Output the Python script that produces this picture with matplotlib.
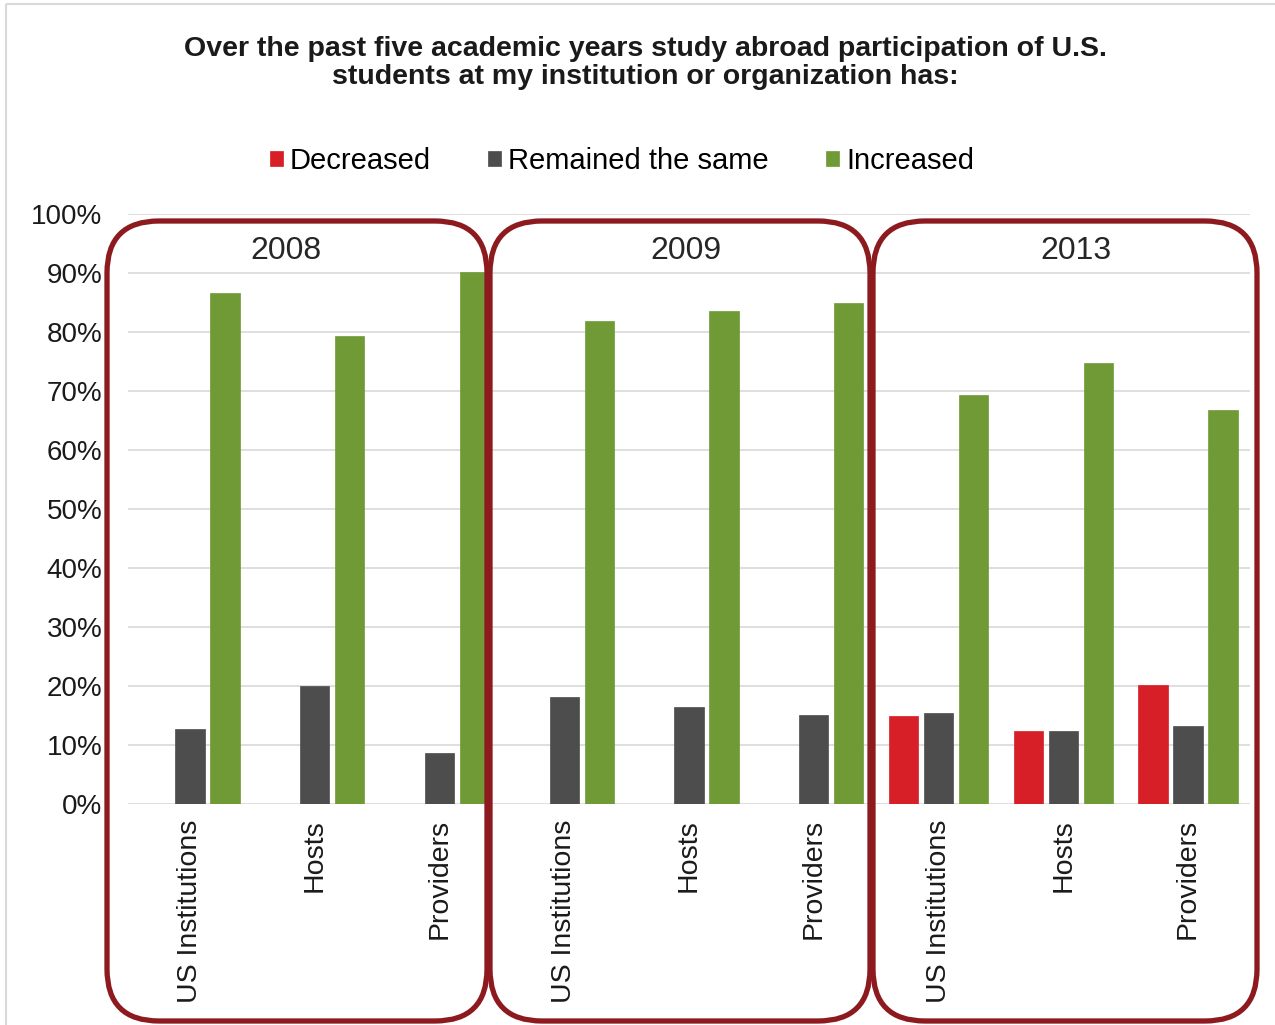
import numpy as np
import matplotlib
matplotlib.use("Agg")
import matplotlib.pyplot as plt
from matplotlib.patches import FancyBboxPatch, Rectangle
from matplotlib.ticker import FuncFormatter

plt.rcParams['font.family'] = ['Liberation Sans', 'DejaVu Sans']

# data (percent)
years = ["2008", "2009", "2013"]
groups = ["US Institutions", "Hosts", "Providers"]
categories = groups * 3
decreased = [0, 0, 0, 0, 0, 0, 15.0, 12.3, 20.1]
remained = [12.7, 20.0, 8.7, 18.1, 16.5, 15.1, 15.4, 12.3, 13.2]
increased = [86.6, 79.4, 90.1, 81.9, 83.6, 85.0, 69.3, 74.8, 66.8]
series_names = ["Decreased", "Remained the same", "Increased"]
colors = ["#d61f26", "#4d4d4d", "#6f9a36"]

W, H = 1275, 1025
fig = plt.figure(figsize=(W / 100, H / 100), dpi=100)

# main plot area (pixel extents from the reference)
left, right, top, bottom = 127.6, 1250.4, 214, 804
ax = fig.add_axes([left / W, 1 - bottom / H, (right - left) / W, (bottom - top) / H])

x = np.arange(len(categories))
bw = 0.235
off = 0.28
for vals, dx, c, name in zip([decreased, remained, increased], [-off, 0, off], colors, series_names):
    ax.bar(x + dx, vals, bw, color=c, edgecolor=c, linewidth=0.5, label=name, zorder=3)

ax.set_xlim(-0.5, len(categories) - 0.5)
ax.set_ylim(0, 100)
ax.set_yticks(np.arange(0, 101, 10))
ax.yaxis.set_major_formatter(FuncFormatter(lambda v, p: f"{int(v)}%"))
ax.set_xticks(x)
ax.set_xticklabels(categories, rotation=90, fontsize=20.5, color="#1a1a1a")
ax.tick_params(axis="y", length=0, pad=18, labelsize=20, labelcolor="#1a1a1a")
ax.tick_params(axis="x", length=0, pad=11)
ax.grid(axis="y", color="#d9d9d9", linewidth=1.2, zorder=0)
for s in ax.spines.values():
    s.set_visible(False)

# legend
handles, labels = ax.get_legend_handles_labels()
fig.legend(handles, labels, loc="center", bbox_to_anchor=(622 / W, 1 - 161 / H), ncol=3,
           frameon=False, fontsize=21, handlelength=0.45, handleheight=0.45,
           handletextpad=0.25, columnspacing=1.95)

# title
fig.text(645 / W, 1 - 63 / H,
         "Over the past five academic years study abroad participation of U.S.\n"
         "students at my institution or organization has:",
         ha="center", va="center", fontsize=20.5, fontweight="bold", linespacing=1.15,
         color="#1a1a1a")

# overlay in pixel coordinates for frame, rounded boxes and year labels
ov = fig.add_axes([0, 0, 1, 1], facecolor="none", zorder=5)
ov.set_xlim(0, W)
ov.set_ylim(H, 0)
ov.axis("off")

ov.add_patch(Rectangle((6, 4), W, H, fill=False, edgecolor="#d9d9d9", linewidth=1.5))

box_x = [(107, 487), (490, 870), (873, 1257)]
year_x = [286, 686, 1076]
for (x0, x1), yr, yx in zip(box_x, years, year_x):
    ov.add_patch(FancyBboxPatch((x0, 221), x1 - x0, 800,
                                boxstyle="round,pad=0,rounding_size=52",
                                fill=False, edgecolor="#8c1a1e", linewidth=3.8))
    ov.text(yx, 251, yr, ha="center", va="center", fontsize=23, color="#262626")

fig.savefig("out.png", dpi=100)
